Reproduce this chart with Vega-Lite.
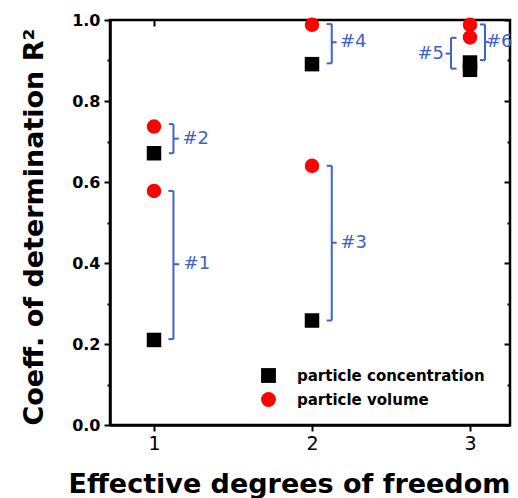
{
  "$schema": "https://vega.github.io/schema/vega-lite/v6.json",
  "width": 400,
  "height": 405,
  "autosize": {"type": "none"},
  "padding": {"left": 110, "top": 20, "right": 8, "bottom": 73},
  "background": "white",
  "config": {
    "font": "DejaVu Sans",
    "view": {"stroke": "black", "strokeWidth": 2.5},
    "axis": {"grid": false}
  },
  "datasets": {
    "points": [
      {"dof": 1, "r2": 0.210, "series": "particle concentration"},
      {"dof": 1, "r2": 0.671, "series": "particle concentration"},
      {"dof": 2, "r2": 0.258, "series": "particle concentration"},
      {"dof": 2, "r2": 0.891, "series": "particle concentration"},
      {"dof": 3, "r2": 0.895, "series": "particle concentration"},
      {"dof": 3, "r2": 0.877, "series": "particle concentration"},
      {"dof": 1, "r2": 0.578, "series": "particle volume"},
      {"dof": 1, "r2": 0.737, "series": "particle volume"},
      {"dof": 2, "r2": 0.640, "series": "particle volume"},
      {"dof": 2, "r2": 0.988, "series": "particle volume"},
      {"dof": 3, "r2": 0.988, "series": "particle volume"},
      {"dof": 3, "r2": 0.957, "series": "particle volume"}
    ],
    "brackets": [
      {"label": "#1", "sx": 1.123, "ax": 1.091, "tx": 1.160, "y1": 0.578, "y2": 0.212, "ym": 0.397, "lx": 1.187},
      {"label": "#2", "sx": 1.123, "ax": 1.094, "tx": 1.157, "y1": 0.743, "y2": 0.671, "ym": 0.707, "lx": 1.180},
      {"label": "#3", "sx": 2.125, "ax": 2.093, "tx": 2.156, "y1": 0.640, "y2": 0.258, "ym": 0.450, "lx": 2.180},
      {"label": "#4", "sx": 2.125, "ax": 2.093, "tx": 2.156, "y1": 0.990, "y2": 0.893, "ym": 0.945, "lx": 2.177},
      {"label": "#5", "sx": 2.880, "ax": 2.915, "tx": 2.846, "y1": 0.956, "y2": 0.880, "ym": 0.917, "lx": 2.668},
      {"label": "#6", "sx": 3.095, "ax": 3.063, "tx": 3.120, "y1": 0.989, "y2": 0.901, "ym": 0.946, "lx": 3.101}
    ]
  },
  "layer": [
    {
      "data": {"name": "brackets"},
      "mark": {"type": "rule", "color": "#4060cc", "strokeWidth": 2},
      "encoding": {
        "x": {"field": "sx", "type": "quantitative", "axis": null},
        "y": {"field": "y1", "type": "quantitative", "axis": null},
        "y2": {"field": "y2"}
      }
    },
    {
      "data": {"name": "brackets"},
      "mark": {"type": "rule", "color": "#4060cc", "strokeWidth": 2},
      "encoding": {
        "x": {"field": "sx", "type": "quantitative", "axis": null},
        "x2": {"field": "ax"},
        "y": {"field": "y1", "type": "quantitative", "axis": null}
      }
    },
    {
      "data": {"name": "brackets"},
      "mark": {"type": "rule", "color": "#4060cc", "strokeWidth": 2},
      "encoding": {
        "x": {"field": "sx", "type": "quantitative", "axis": null},
        "x2": {"field": "ax"},
        "y": {"field": "y2", "type": "quantitative", "axis": null}
      }
    },
    {
      "data": {"name": "brackets"},
      "mark": {"type": "rule", "color": "#4060cc", "strokeWidth": 2},
      "encoding": {
        "x": {"field": "sx", "type": "quantitative", "axis": null},
        "x2": {"field": "tx"},
        "y": {"field": "ym", "type": "quantitative", "axis": null}
      }
    },
    {
      "data": {"name": "brackets"},
      "mark": {"type": "text", "color": "#4060cc", "fontSize": 18, "align": "left", "baseline": "middle", "font": "DejaVu Sans"},
      "encoding": {
        "x": {"field": "lx", "type": "quantitative", "axis": null},
        "y": {"field": "ym", "type": "quantitative", "axis": null},
        "text": {"field": "label"}
      }
    },
    {
      "data": {"name": "points"},
      "mark": {"type": "point", "filled": true, "opacity": 1, "size": 210},
      "encoding": {
        "x": {
          "field": "dof", "type": "quantitative",
          "scale": {"domain": [0.7215, 3.2532], "nice": false, "zero": false},
          "axis": {
            "orient": "bottom", "values": [1, 2, 3], "format": "d",
            "domainWidth": 2.5, "domainColor": "black",
            "tickSize": 6, "tickWidth": 2, "tickColor": "black",
            "labelFontSize": 19, "labelFontWeight": "normal", "labelColor": "black", "labelPadding": 3,
            "title": "Effective degrees of freedom",
            "titleFontSize": 27, "titleFontWeight": "bold", "titleColor": "black",
            "titleAlign": "left", "titleBaseline": "alphabetic", "titleX": -42, "titleY": 67
          }
        },
        "y": {
          "field": "r2", "type": "quantitative",
          "scale": {"domain": [0, 1], "nice": false},
          "axis": {
            "orient": "left",
            "values": [0, 0.1, 0.2, 0.3, 0.4, 0.5, 0.6, 0.7, 0.8, 0.9, 1.0],
            "labelExpr": "round(datum.value*10) % 2 == 0 ? format(datum.value, '.1f') : ''",
            "domainWidth": 2.5, "domainColor": "black",
            "tickSize": {"condition": {"test": "round(datum.value*10) % 2 == 0", "value": 6}, "value": 3},
            "tickWidth": 2, "tickColor": "black",
            "labelFontSize": 16, "labelFontWeight": "bold", "labelColor": "black", "labelPadding": 4,
            "title": "Coeff. of determination R²",
            "titleFontSize": 27, "titleFontWeight": "bold", "titleColor": "black",
            "titleAngle": -90, "titleAlign": "left", "titleBaseline": "alphabetic", "titleX": -68, "titleY": 405
          }
        },
        "color": {
          "field": "series", "type": "nominal",
          "scale": {"domain": ["particle concentration", "particle volume"], "range": ["black", "#ff0000"]},
          "legend": {
            "title": null, "orient": "none", "legendX": 151, "legendY": 348,
            "labelFontSize": 15, "labelFontWeight": "bold", "labelColor": "black", "labelLimit": 0,
            "labelOffset": 21, "symbolSize": 220, "rowPadding": 8, "padding": 0,
            "symbolStrokeWidth": 0
          }
        },
        "shape": {
          "field": "series", "type": "nominal",
          "scale": {"domain": ["particle concentration", "particle volume"], "range": ["square", "circle"]},
          "legend": {
            "title": null, "orient": "none", "legendX": 151, "legendY": 348,
            "labelFontSize": 15, "labelFontWeight": "bold", "labelColor": "black", "labelLimit": 0,
            "labelOffset": 21, "symbolSize": 220, "rowPadding": 8, "padding": 0,
            "symbolStrokeWidth": 0
          }
        }
      }
    },
    {
      "data": {"name": "points"},
      "mark": {"type": "point", "opacity": 0},
      "encoding": {
        "x": {
          "field": "dof", "type": "quantitative",
          "axis": {"orient": "top", "values": [1, 2, 3], "labels": false, "domain": false, "tickSize": -6, "tickWidth": 2, "tickColor": "black", "title": null}
        },
        "y": {
          "field": "r2", "type": "quantitative",
          "axis": {
            "orient": "right", "values": [0, 0.1, 0.2, 0.3, 0.4, 0.5, 0.6, 0.7, 0.8, 0.9, 1.0],
            "labels": false, "domain": false,
            "tickSize": {"condition": {"test": "round(datum.value*10) % 2 == 0", "value": -6}, "value": -3},
            "tickWidth": 2, "tickColor": "black", "title": null
          }
        }
      }
    }
  ],
  "resolve": {"axis": {"x": "independent", "y": "independent"}}
}
